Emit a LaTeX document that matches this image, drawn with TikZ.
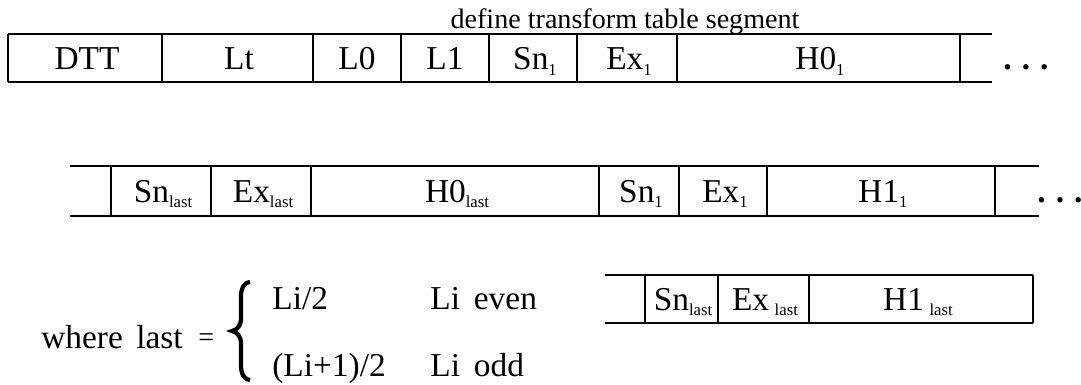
\documentclass[tikz,border=0pt]{standalone}
\usepackage{fontspec}
\setmainfont{Liberation Serif}
% small lowered index for the field names
\newcommand{\lowsub}[1]{\raisebox{-3.2pt}{\fontsize{9.5}{10}\selectfont #1}}

\begin{document}
\begin{tikzpicture}[x=0.02cm, y=-0.02cm,
    cell/.style={anchor=base, inner sep=0pt, font=\fontsize{19}{22}\selectfont},
    segline/.style={line width=1.1pt}]
    \useasboundingbox (0,0) rectangle (1081,385);

    % Header of the first segment
    \node[anchor=base, inner sep=0pt, font=\fontsize{16}{18}\selectfont] (title) at (625,29) {define transform table segment};

    % First row
    \def\ytop{34}
    \def\ybot{82}
    \draw[segline] (8,\ytop) -- (992,\ytop);
    \draw[segline] (8,\ybot) -- (992,\ybot);
    \foreach \x in {8,162,313,401,489,577,677,960}
        \draw[segline] (\x,\ytop) -- (\x,\ybot);

    \node[cell] (dtt) at (87,70) {DTT};
    \node[cell] (lt) at (239,70) {Lt};
    \node[cell] (lzero) at (357,70) {L0};
    \node[cell] (lone) at (445,70) {L1};
    \node[cell] (snA) at (535,70) {Sn\lowsub{1}};
    \node[cell] (exA) at (629,70) {Ex\lowsub{1}};
    \node[cell] (hzA) at (820,70) {H0\lowsub{1}};
    \node[cell] (dotsA) at (1026,70) {\textbf{.\hspace{0.3em}.\hspace{0.3em}.}};

    % Second row
    \def\ytop{166}
    \def\ybot{216}
    \draw[segline] (70,\ytop) -- (1039,\ytop);
    \draw[segline] (70,\ybot) -- (1039,\ybot);
    \foreach \x in {111,211,311,599,679,767,995}
        \draw[segline] (\x,\ytop) -- (\x,\ybot);

    \node[cell] (snB) at (163,202) {Sn\lowsub{last}};
    \node[cell] (exB) at (263,202) {Ex\lowsub{last}};
    \node[cell] (hzB) at (457,202) {H0\lowsub{last}};
    \node[cell] (snC) at (641,202) {Sn\lowsub{1}};
    \node[cell] (exC) at (725,202) {Ex\lowsub{1}};
    \node[cell] (hoC) at (883,202) {H1\lowsub{1}};
    \node[cell] (dotsB) at (1060,202) {\textbf{.\hspace{0.3em}.\hspace{0.3em}.}};

    % Third row
    \def\ytop{275}
    \def\ybot{323}
    \draw[segline] (605,\ytop) -- (1033,\ytop);
    \draw[segline] (605,\ybot) -- (1033,\ybot);
    \foreach \x in {645,718,809,1033}
        \draw[segline] (\x,\ytop) -- (\x,\ybot);

    \node[cell] (snD) at (683,310) {Sn\lowsub{last}};
    \node[cell] (exD) at (765,310) {Ex\,\lowsub{last}};
    \node[cell] (hoD) at (918,310) {H1\,\lowsub{last}};

    % Definition of last
    \node[cell, anchor=base west] (where) at (41,348) {where};
    \node[cell, anchor=base west] (last) at (136,348) {last};
    \node[cell, anchor=base west, font=\fontsize{16}{18}\selectfont] (eq) at (198,346) {=};
    \draw[line width=2.4pt] (250,282) .. controls (243,283) and (241,289) .. (241,297)
        -- (241,318) .. controls (241,326) and (237,330) .. (232,331)
        .. controls (237,332) and (241,336) .. (241,344)
        -- (241,365) .. controls (241,373) and (243,379) .. (250,380);
    \node[cell, anchor=base west] (evenval) at (272,309) {Li/2};
    \node[cell, anchor=base west] (evencase) at (430,309) {Li\ \,even};
    \node[cell, anchor=base west] (oddval) at (272,376) {(Li+1)/2};
    \node[cell, anchor=base west] (oddcase) at (430,376) {Li\ \,odd};
\end{tikzpicture}
\end{document}
